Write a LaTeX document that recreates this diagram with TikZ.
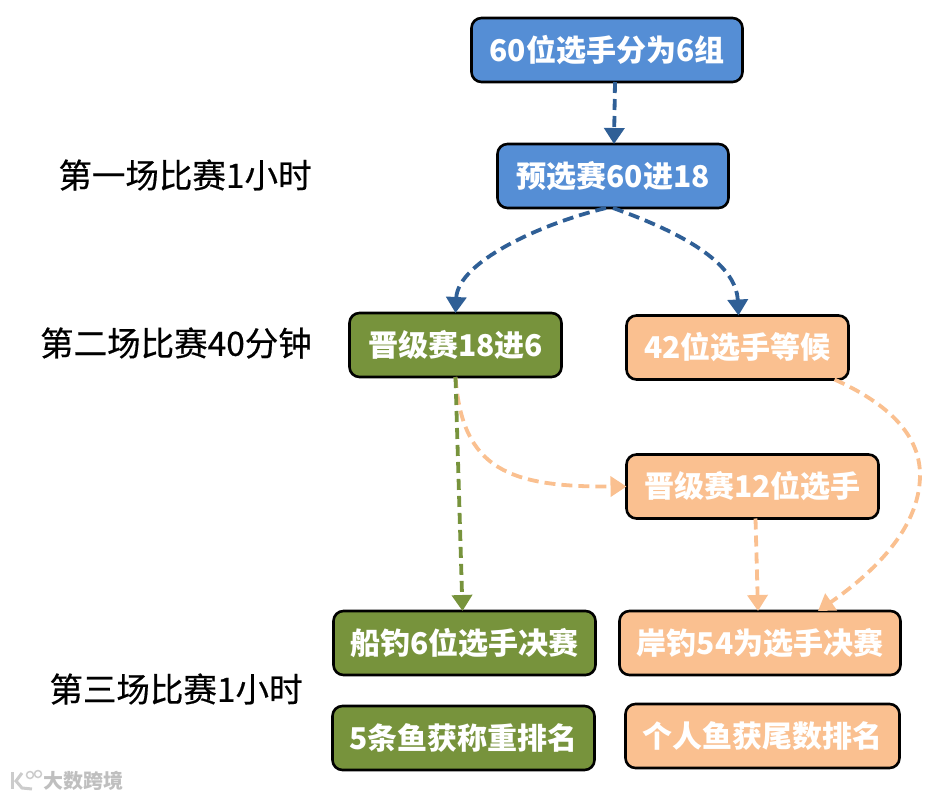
\documentclass[tikz,border=0pt]{standalone}
\usepackage{fontspec}
\setmainfont{Noto Sans CJK SC}
\newfontfamily\stagefont[FakeBold=0.5]{Noto Sans CJK SC}
\usetikzlibrary{arrows.meta,positioning}
\definecolor{bluebox}{HTML}{558ED5}
\definecolor{greenbox}{HTML}{77933C}
\definecolor{orangebox}{HTML}{FAC090}
\definecolor{bluearrow}{HTML}{2F5F96}

\begin{document}
\begin{tikzpicture}[x=1pt,y=1pt,
    box/.style={draw=black,line width=2.6pt,rounded corners=10pt,minimum height=64pt,outer sep=0pt,
      text=white,font=\fontsize{30}{30}\selectfont\bfseries},
    stage/.style={font=\fontsize{33.5}{33.5}\selectfont\stagefont},
    flow/.style={line width=3.8pt,dash pattern=on 11pt off 6pt,-{Triangle[width=20pt,length=16pt]}}]
    \useasboundingbox (0,0) rectangle (930,-798);
    \node[box,fill=bluebox,minimum width=271pt] (groups) at (607,-50) {60位选手分为6组} ;
    \node[box,fill=bluebox,minimum width=231pt] (prelim) [below=62pt of groups,xshift=6pt] {预选赛60进18} ;
    \node[box,fill=greenbox,minimum width=212pt] (promo) [below=105pt of prelim,xshift=-157.5pt] {晋级赛18进6} ;
    \node[box,fill=orangebox,minimum width=222pt] (waiting) [below=107.5pt of prelim,xshift=124.5pt] {42位选手等候} ;
    \node[box,fill=orangebox,minimum width=252pt] (twelve) [below=75pt of waiting,xshift=15pt] {晋级赛12位选手} ;
    \node[box,fill=greenbox,minimum width=262pt] (boat) [below=234pt of promo,xshift=9pt] {船钓6位选手决赛} ;
    \node[box,fill=orangebox,minimum width=281pt] (shore) [below=92.5pt of twelve,xshift=7.5pt] {岸钓54为选手决赛} ;
    \node[box,fill=greenbox,minimum width=262pt] (boatrank) [below=31pt of boat,xshift=-1pt] {5条鱼获称重排名} ;
    \node[box,fill=orangebox,minimum width=274pt] (shorerank) [below=29pt of shore,xshift=2.5pt] {个人鱼获尾数排名} ;
    \node[stage] (first) at (185,-175) {第一场比赛1小时} ;
    \node[stage] (second) at (176,-343) {第二场比赛40分钟} ;
    \node[stage] (third) at (176,-689) {第三场比赛1小时} ;
    \node[text=black!25,font=\fontsize{20}{20}\selectfont\bfseries] (mark) at (83.5,-781) {大数跨境} ;
    \draw[flow,bluearrow] ([xshift=8pt]groups.south) -- ([xshift=1pt]prelim.north);
    \draw[flow,bluearrow] ([xshift=-7pt]prelim.south) .. controls (540,-224) and (458,-262) .. (promo.north);
    \draw[flow,bluearrow] (prelim.south) .. controls (680,-232) and (736,-262) .. ([xshift=1pt]waiting.north);
    \draw[flow,orangebox] (promo.south) .. controls (462,-470) and (510,-487) .. (twelve.west);
    \draw[flow,greenbox] (promo.south) -- ([xshift=-2pt]boat.north);
    \draw[flow,orangebox] ([xshift=3pt]twelve.south) -- ([xshift=-2pt]shore.north);
    \draw[flow,orangebox] ([xshift=97pt]waiting.south) .. controls (880,-400) and (920,-430) .. (920,-475) .. controls (920,-530) and (870,-575) .. ([xshift=58pt]shore.north);
    %logo of the watermark
    \draw[black!20,line width=3pt] (12,-772) -- (12,-789);
    \draw[black!20,line width=3pt] (22,-773) -- (16,-781) -- (22,-788) -- (32,-789);
    \draw[black!20,line width=1.5pt] (30,-775) circle [radius=3.5pt];
    \draw[black!20,line width=1.5pt] (38,-774) circle [radius=3.5pt];
  \end{tikzpicture}
\end{document}
